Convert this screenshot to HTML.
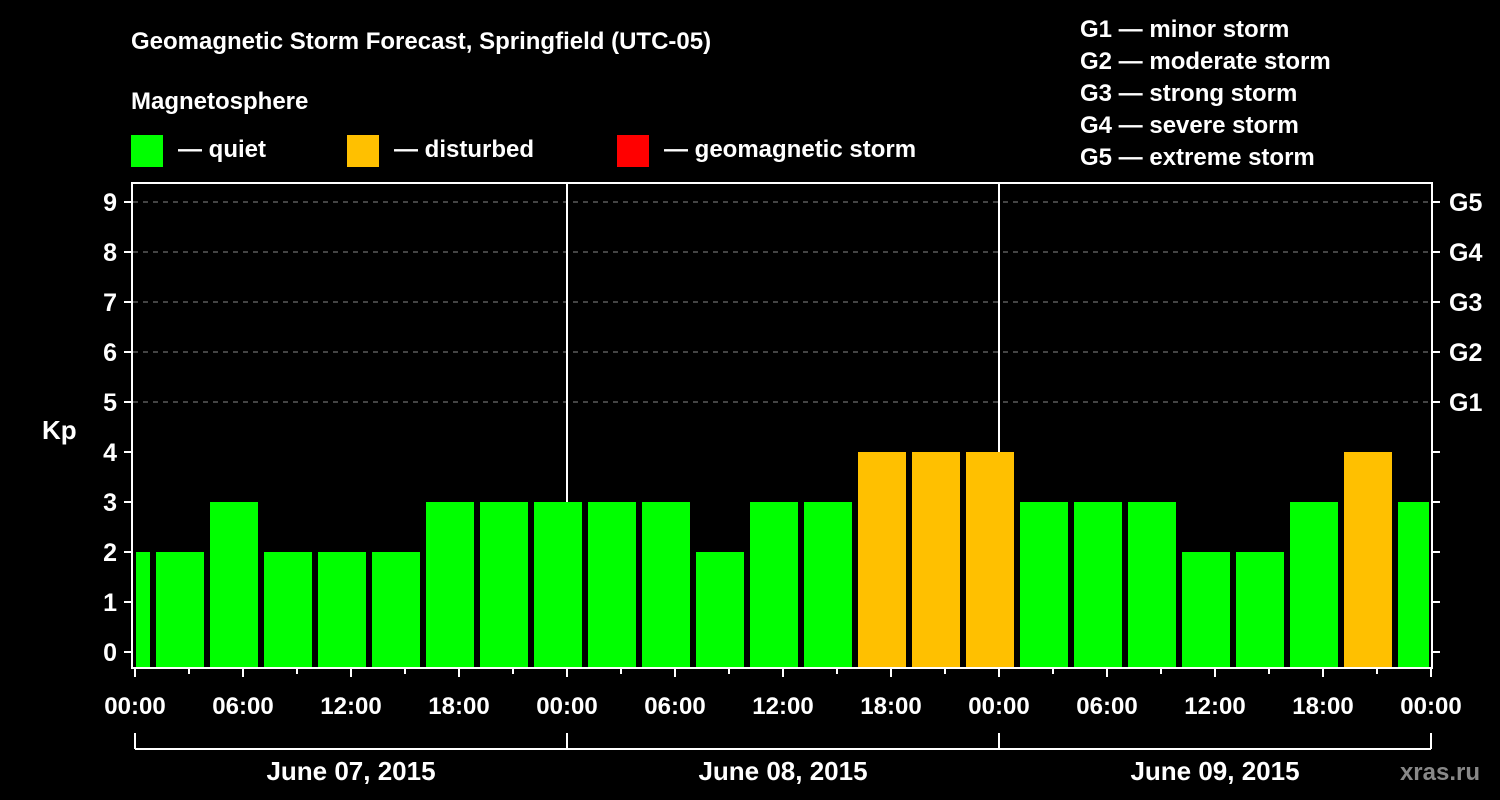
<!DOCTYPE html>
<html><head><meta charset="utf-8"><style>
body{margin:0;background:#000;}
svg{display:block;font-family:"Liberation Sans",Arial,sans-serif;font-weight:bold;}
</style></head><body>
<svg id="c" width="1500" height="800" xmlns="http://www.w3.org/2000/svg">
<rect width="1500" height="800" fill="#000"/>
<text x="131" y="49" fill="#fff" font-size="24">Geomagnetic Storm Forecast, Springfield (UTC-05)</text>
<text x="131" y="109" fill="#fff" font-size="24">Magnetosphere</text>
<g><rect x="131" y="135" width="32" height="32" fill="#00ff00"/><text x="178" y="157" fill="#fff" font-size="24">— quiet</text></g>
<g><rect x="347" y="135" width="32" height="32" fill="#ffc000"/><text x="394" y="157" fill="#fff" font-size="24">— disturbed</text></g>
<g><rect x="617" y="135" width="32" height="32" fill="#ff0000"/><text x="664" y="157" fill="#fff" font-size="24">— geomagnetic storm</text></g>
<g fill="#fff" font-size="24">
<text x="1080" y="37">G1 — minor storm</text>
<text x="1080" y="69">G2 — moderate storm</text>
<text x="1080" y="101">G3 — strong storm</text>
<text x="1080" y="133">G4 — severe storm</text>
<text x="1080" y="165">G5 — extreme storm</text>
</g>
<text x="42" y="439" fill="#fff" font-size="26">Kp</text>
<text x="1480" y="780" fill="#888" font-size="24" text-anchor="end">xras.ru</text>
<defs><clipPath id="pc"><rect x="136" y="183" width="1293" height="485"/></clipPath></defs>
<g id="grid"></g>
<g id="bars" clip-path="url(#pc)"></g>
<g id="axes"></g>
</svg>
<script>
const barValues=[2,2,3,2,2,2,3,3,3,3,3,2,3,3,4,4,4,3,3,3,2,2,3,4,3];
const barStartHour=-2;
const barStepHours=3;
const yTicks=[0,1,2,3,4,5,6,7,8,9];
const gLabels=["G1","G2","G3","G4","G5"];
const xTickLabels=["00:00","06:00","12:00","18:00","00:00","06:00","12:00","18:00","00:00","06:00","12:00","18:00","00:00"];
const dayLabels=["June 07, 2015","June 08, 2015","June 09, 2015"];
const NS="http://www.w3.org/2000/svg";
const X=h=>135+h*18;
const Y=v=>652-v*50;
function mk(t,a,p){const e=document.createElementNS(NS,t);for(const k in a)e.setAttribute(k,a[k]);p.appendChild(e);return e;}
const grid=document.getElementById('grid'),bars=document.getElementById('bars'),axes=document.getElementById('axes');
for(let v=5;v<=9;v++){const l=mk('line',{x1:133,x2:1431,y1:Y(v),y2:Y(v),stroke:'#888','stroke-dasharray':'5,5','stroke-width':1},grid);

}
[24,48].forEach(h=>{const l=mk('line',{x1:X(h),x2:X(h),y1:183,y2:668,stroke:'#fff','stroke-width':2},grid);

});
barValues.forEach((v,i)=>{const h=barStartHour+i*barStepHours;const col=v>=5?'#ff0000':v>=4?'#ffc000':'#00ff00';
const r=mk('rect',{x:X(h)+3,y:Y(v),width:48,height:668-Y(v),fill:col},bars);

});
const fr=mk('rect',{x:132,y:183,width:1300,height:485,fill:'none',stroke:'#fff','stroke-width':2},axes);


yTicks.forEach(v=>{mk('line',{x1:124,x2:132,y1:Y(v),y2:Y(v),stroke:'#fff','stroke-width':2},axes);
mk('line',{x1:1432,x2:1440,y1:Y(v),y2:Y(v),stroke:'#fff','stroke-width':2},axes);
const t=mk('text',{x:117,y:Y(v)+9,fill:'#fff','font-size':25,'text-anchor':'end'},axes);t.textContent=v;

});
gLabels.forEach((g,i)=>{const t=mk('text',{x:1449,y:Y(5+i)+9,fill:'#fff','font-size':25},axes);t.textContent=g;

});
for(let h=0;h<=72;h+=3){mk('line',{x1:X(h),x2:X(h),y1:668,y2:h%6==0?677:674,stroke:'#fff','stroke-width':2},axes);}
xTickLabels.forEach((s,i)=>{const t=mk('text',{x:X(i*6),y:714,fill:'#fff','font-size':24,'text-anchor':'middle'},axes);t.textContent=s;

});
mk('line',{x1:X(0),x2:X(72),y1:749,y2:749,stroke:'#fff','stroke-width':2},axes);
for(let d=0;d<=3;d++)mk('line',{x1:X(d*24),x2:X(d*24),y1:733,y2:749,stroke:'#fff','stroke-width':2},axes);
dayLabels.forEach((s,i)=>{const t=mk('text',{x:X(i*24+12),y:780,fill:'#fff','font-size':26,'text-anchor':'middle'},axes);t.textContent=s;

});
</script>
</body></html>
